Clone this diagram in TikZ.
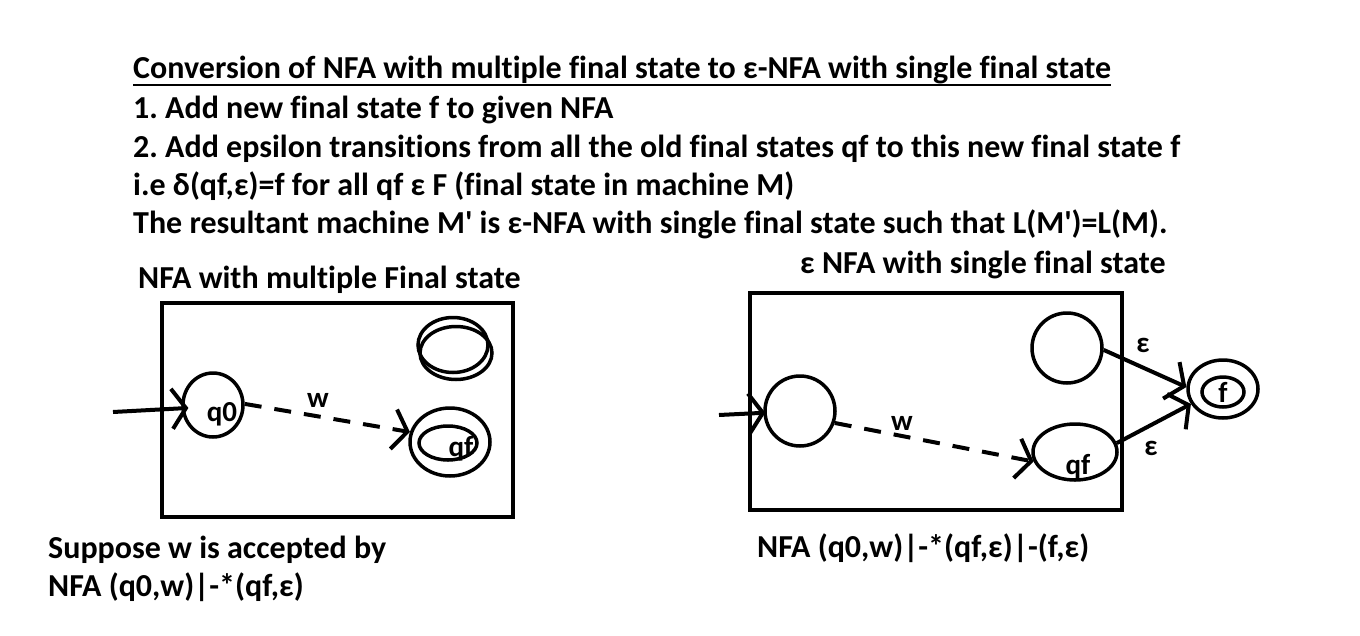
\documentclass[tikz,border=0pt]{standalone}
\usepackage{fontspec}
\setmainfont{Carlito}[Ligatures={NoCommon}]
\frenchspacing
\usetikzlibrary{arrows.meta,shapes.geometric}
\begin{document}
\begin{tikzpicture}[x=1pt,y=-1pt,
  txt/.style={anchor=base west,inner sep=0pt,font=\fontsize{32}{38}\selectfont\bfseries},
  lbl/.style={anchor=base,inner sep=0pt,font=\fontsize{29}{34}\selectfont\bfseries},
  frame/.style={draw,line width=4pt},
  st/.style={draw,ellipse,line width=3.5pt,inner sep=0pt},
  tr/.style={line width=4pt,-{Straight Barb[length=14pt,width=40pt]}},
  dtr/.style={tr,dash pattern=on 17pt off 13pt},
]
\useasboundingbox (0,0) rectangle (1360,635);

% texts
\node[txt] (title) at (133,78) {Conversion of NFA with multiple final state to ε-NFA with single final state};
\draw[line width=2.5pt] ([yshift=-7pt]title.base west) -- ([yshift=-7pt]title.base east);
\node[txt] (l1) at (133,118) {1. Add new final state f to given NFA};
\node[txt] (l2) at (133,157) {2. Add epsilon transitions from all the old final states qf to this new final state f};
\node[txt] (l3) at (133,195) {i.e δ(qf,ε)=f for all qf ε F (final state in machine M)};
\node[txt] (l4) at (133,233) {The resultant machine M\textquotesingle{} is ε-NFA with single final state such that L(M\textquotesingle)=L(M).};
\node[txt] (h1) at (138,288) {NFA with multiple Final state};
\node[txt] (h2) at (800,273) {ε NFA with single final state};
\node[txt] (b1) at (48,558) {Suppose w is accepted by};
\node[txt] (b2) at (48,596) {NFA (q0,w)|-*(qf,ε)};
\node[txt] (b3) at (757,557) {NFA (q0,w)|-*(qf,ε)|-(f,ε)};

% left diagram
\draw[frame] (162,303) rectangle (513,517);
\node[st,minimum width=60pt,minimum height=64pt] (q0) at (213,405) {};
\node[lbl] (q0l) at (222,421) {q0};
\node[st,minimum width=70pt,minimum height=55pt] (fa) at (453,345) {};
\node[st,minimum width=72pt,minimum height=53pt] (fb) at (456,353) {};
\node[st,minimum width=80pt,minimum height=68pt] (qf1) at (450,442) {};
\node[lbl] (qf1l) at (461,456) {qf};
\node[st,minimum width=58pt,minimum height=34pt] (qf1i) at (448,443) {};
\coordinate (in1) at (113,412);
\draw[tr,shorten >=-7pt] (in1) -- (q0.186);
\draw[dtr] (q0.2) -- (qf1.166);
\node[lbl] (w1) at (318,407) {w};

% right diagram
\draw[frame] (750,293) rectangle (1122,510);
\node[st,minimum size=70pt] (s0) at (800,411) {};
\node[st,minimum size=70pt] (t2) at (1067,348) {};
\node[st,minimum width=84pt,minimum height=56pt] (qf2) at (1075,452) {};
\node[lbl] (qf2l) at (1078,474) {qf};
\node[st,minimum width=70pt,minimum height=58pt] (f) at (1223,389) {};
\node[st,minimum width=42pt,minimum height=30pt] (fi) at (1223,392) {};
\node[lbl] (fl) at (1223,402) {f};
\coordinate (in2) at (719,415);
\draw[tr,shorten >=-2pt] (in2) -- (s0);
\draw[dtr] (s0.-19) -- (qf2.193);
\node[lbl] (w2) at (902,430) {w};
\draw[tr] (t2.-3) -- (f.177);
\draw[tr] (qf2.12) -- (f.205);
\node[lbl] (e1) at (1143,352) {ε};
\node[lbl] (e2) at (1151,455) {ε};
\end{tikzpicture}
\end{document}
